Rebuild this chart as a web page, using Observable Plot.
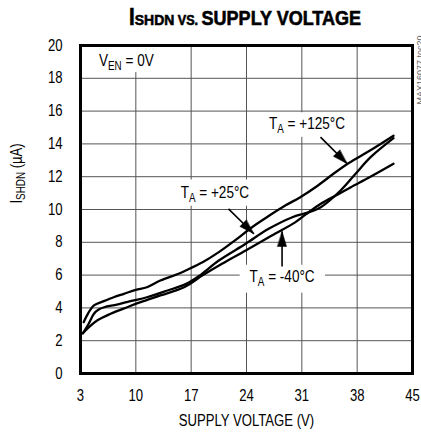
<!DOCTYPE html>
<html><head><meta charset="utf-8">
<script src="https://cdn.jsdelivr.net/npm/d3@7"></script>
<script src="https://cdn.jsdelivr.net/npm/@observablehq/plot@0.6"></script>
<style>
body{margin:0;background:#fff;}
#title{display:block;}
</style></head><body>
<svg id="title" width="421" height="35"></svg>
<div id="chart"></div>
<script>
// ---- data ----
const voltageTicks = [3, 10, 17, 24, 31, 38, 45];
const currentTicks = [0, 2, 4, 6, 8, 10, 12, 14, 16, 18, 20];
const gridV = [10, 17, 24, 31, 38];
const gridI = [2, 4, 6, 8, 10, 12, 14, 16, 18];

// TA = +125°C
const v125 = [3.4, 4.0, 4.7, 5.95, 7.2, 8.5, 10, 11.4, 13.1, 15.4, 16.3, 18.5, 20.5, 22.5, 24.7, 26.8, 28.9, 30.8, 33, 35, 37, 39.3, 42.6];
const i125 = [3.13, 3.7, 4.15, 4.41, 4.65, 4.86, 5.1, 5.26, 5.67, 6.08, 6.28, 6.8, 7.4, 8.1, 8.92, 9.6, 10.24, 10.75, 11.45, 12.18, 12.85, 13.5, 14.5];
// TA = +25°C
const v25 = [3.3, 4.0, 4.7, 5.3, 6.0, 7.6, 9.3, 11.4, 14, 16.3, 18, 20.5, 23.9, 26.8, 29.8, 31.2, 32.3, 33.4, 35.9, 37.8, 39.7, 42.6];
const i25 = [2.45, 3.0, 3.64, 3.9, 4.04, 4.2, 4.41, 4.65, 5.06, 5.45, 5.95, 6.89, 7.91, 8.82, 9.53, 9.74, 9.9, 10.14, 11.16, 12.18, 13.19, 14.35];
// TA = -40°C
const vm40 = [3.3, 4.0, 5.1, 6.8, 8.9, 10.6, 13.1, 16.1, 18.5, 20.9, 23.9, 27.2, 30.2, 31.5, 33.4, 35.5, 37.2, 39.5, 42.6];
const im40 = [2.45, 2.8, 3.23, 3.64, 4.04, 4.35, 4.76, 5.26, 6.0, 6.69, 7.5, 8.41, 9.23, 9.7, 10.35, 10.9, 11.36, 11.95, 12.79];

// annotation labels
const labelMain = ["T", "T", "T", "V"];
const labelSub = ["A", "A", "A", "EN"];
const labelRest = [" = +125°C", " = +25°C", " = -40°C", " = 0V"];
const labelV = [31.65, 20.0, 28.5, 8.8];
const labelI = [15.25, 11.0, 5.88, 19.1];
// white boxes behind labels
const boxV1 = [26.0, 14.9, 23.2, 4.2];
const boxV2 = [37.4, 25.3, 34.0, 12.9];
const boxI1 = [14.4, 10.2, 4.9, 18.35];
const boxI2 = [15.9, 11.8, 6.6, 20];
// arrows
const arrowFromV = [33.36, 21.72, 28.5];
const arrowFromI = [14.41, 10.04, 6.52];
const arrowToV = [36.74, 24.92, 28.5];
const arrowToI = [12.79, 8.52, 8.66];

const titleParts = ["I", "SHDN", " VS. ", "SUPPLY VOLTAGE"];
const xLabel = "SUPPLY VOLTAGE (V)";
const yLabelMain = "I", yLabelSub = "SHDN", yLabelRest = " (µA)";
const sideNote = "MAX16077 toc20";

// ---- layout ----
const W = 421, H = 404;
const M = {top: 10, right: 9, bottom: 66, left: 80};
const FONT = '"Liberation Sans", Arial, sans-serif';
const NARROW = 0.82, TITLE_NARROW = 0.9;

const toRows = (xs, ys) => xs.map((v, k) => ({v, i: ys[k]}));
const d125 = toRows(v125, i125), d25 = toRows(v25, i25), dm40 = toRows(vm40, im40);
const labels = labelMain.map((m, k) => ({text: m + labelSub[k] + labelRest[k], v: labelV[k], i: labelI[k]}));
const boxes = boxV1.map((v, k) => ({v1: v, v2: boxV2[k], i1: boxI1[k], i2: boxI2[k]}));
const kx = (W - M.left - M.right) / (45 - 3), ky = (H - M.top - M.bottom) / 20;
const arrows = arrowFromV.map((v, k) => ({
  v1: v, i1: arrowFromI[k], v2: arrowToV[k], i2: arrowToI[k],
  angle: Math.atan2((arrowToV[k] - v) * kx, (arrowToI[k] - arrowFromI[k]) * ky) * 180 / Math.PI
}));
const headShape = {draw(ctx, l) { const w = 4.5; ctx.moveTo(0, -l); ctx.lineTo(w, 0); ctx.lineTo(-w, 0); ctx.closePath(); }};

const plot = Plot.plot({
  width: W, height: H,
  marginTop: M.top, marginRight: M.right, marginBottom: M.bottom, marginLeft: M.left,
  style: {fontFamily: FONT, fontSize: "16px", background: "white", color: "black", overflow: "visible"},
  x: {domain: [3, 45]},
  y: {domain: [0, 20]},
  marks: [
    Plot.ruleX(gridV, {stroke: "#555", strokeWidth: 1}),
    Plot.ruleY(gridI, {stroke: "#555", strokeWidth: 1}),
    Plot.rect(boxes, {x1: "v1", x2: "v2", y1: "i1", y2: "i2", fill: "white"}),
    Plot.line(d125, {x: "v", y: "i", stroke: "black", strokeWidth: 2.3, curve: "catmull-rom"}),
    Plot.line(d25, {x: "v", y: "i", stroke: "black", strokeWidth: 2.3, curve: "catmull-rom"}),
    Plot.line(dm40, {x: "v", y: "i", stroke: "black", strokeWidth: 2.3, curve: "catmull-rom"}),
    Plot.frame({stroke: "black", strokeWidth: 3}),
    Plot.link(arrows, {x1: "v1", y1: "i1", x2: "v2", y2: "i2", stroke: "black", strokeWidth: 1.6}),
    Plot.vector(arrows, {x: "v2", y: "i2", rotate: "angle", length: 15, anchor: "end", shape: headShape, fill: "black", stroke: "black", strokeWidth: 0.5}),
    Plot.axisX(voltageTicks, {tickSize: 0, tickPadding: 16, fontSize: 16, label: null}),
    Plot.axisY(currentTicks, {tickSize: 0, tickPadding: 18, fontSize: 16, label: null}),
    Plot.text(labels, {x: "v", y: "i", text: "text", fontSize: 16.5, fill: "black"}),
    Plot.text([xLabel], {frameAnchor: "bottom", dy: 52, fontSize: 16, fill: "black"}),
    Plot.text([yLabelMain + yLabelSub + yLabelRest], {x: 3, y: 12.2, dx: -64, rotate: -90, fontSize: 16, fill: "black"}),
    Plot.text([sideNote], {frameAnchor: "top-right", dx: 4.5, dy: -10, rotate: -90, textAnchor: "end", fontSize: 9, fill: "#666"})
  ]
});
document.getElementById("chart").appendChild(plot);

// subscripts
const ns = "http://www.w3.org/2000/svg";
function subscriptify(el, main, sub, rest, subSize, shift) {
  el.textContent = "";
  const a = document.createElementNS(ns, "tspan"); a.textContent = main; el.appendChild(a);
  const b = document.createElementNS(ns, "tspan"); b.textContent = sub; b.setAttribute("font-size", subSize); b.setAttribute("dy", shift); el.appendChild(b);
  const c = document.createElementNS(ns, "tspan"); c.textContent = rest; c.setAttribute("dy", -shift); el.appendChild(c);
}
// condensed look: squeeze each text's advance with textLength
function narrow(el, f) {
  const len = el.getComputedTextLength();
  if (len > 0) {
    el.setAttribute("textLength", (len * f).toFixed(2));
    el.setAttribute("lengthAdjust", "spacingAndGlyphs");
  }
}
d3.select(plot).selectAll("text").each(function() {
  const t = this.textContent;
  if (t === sideNote) return;
  labelMain.forEach((m, k) => { if (t === m + labelSub[k] + labelRest[k]) subscriptify(this, m, labelSub[k], labelRest[k], 12, 4); });
  if (t === yLabelMain + yLabelSub + yLabelRest) subscriptify(this, yLabelMain, yLabelSub, yLabelRest, 12, 3.5);
  narrow(this, NARROW);
});

// title
const tsvg = d3.select("#title");
const tt = tsvg.append("text").attr("x", 245).attr("y", 25).attr("text-anchor", "middle")
  .attr("font-family", FONT).attr("font-weight", "bold").attr("fill", "black")
  .attr("stroke", "black").attr("stroke-width", 0.6);
const sizes = [23, 15.5, 14, 20];
titleParts.forEach((p, k) => tt.append("tspan").attr("font-size", sizes[k]).text(p));
narrow(tt.node(), TITLE_NARROW);
</script>
</body></html>
